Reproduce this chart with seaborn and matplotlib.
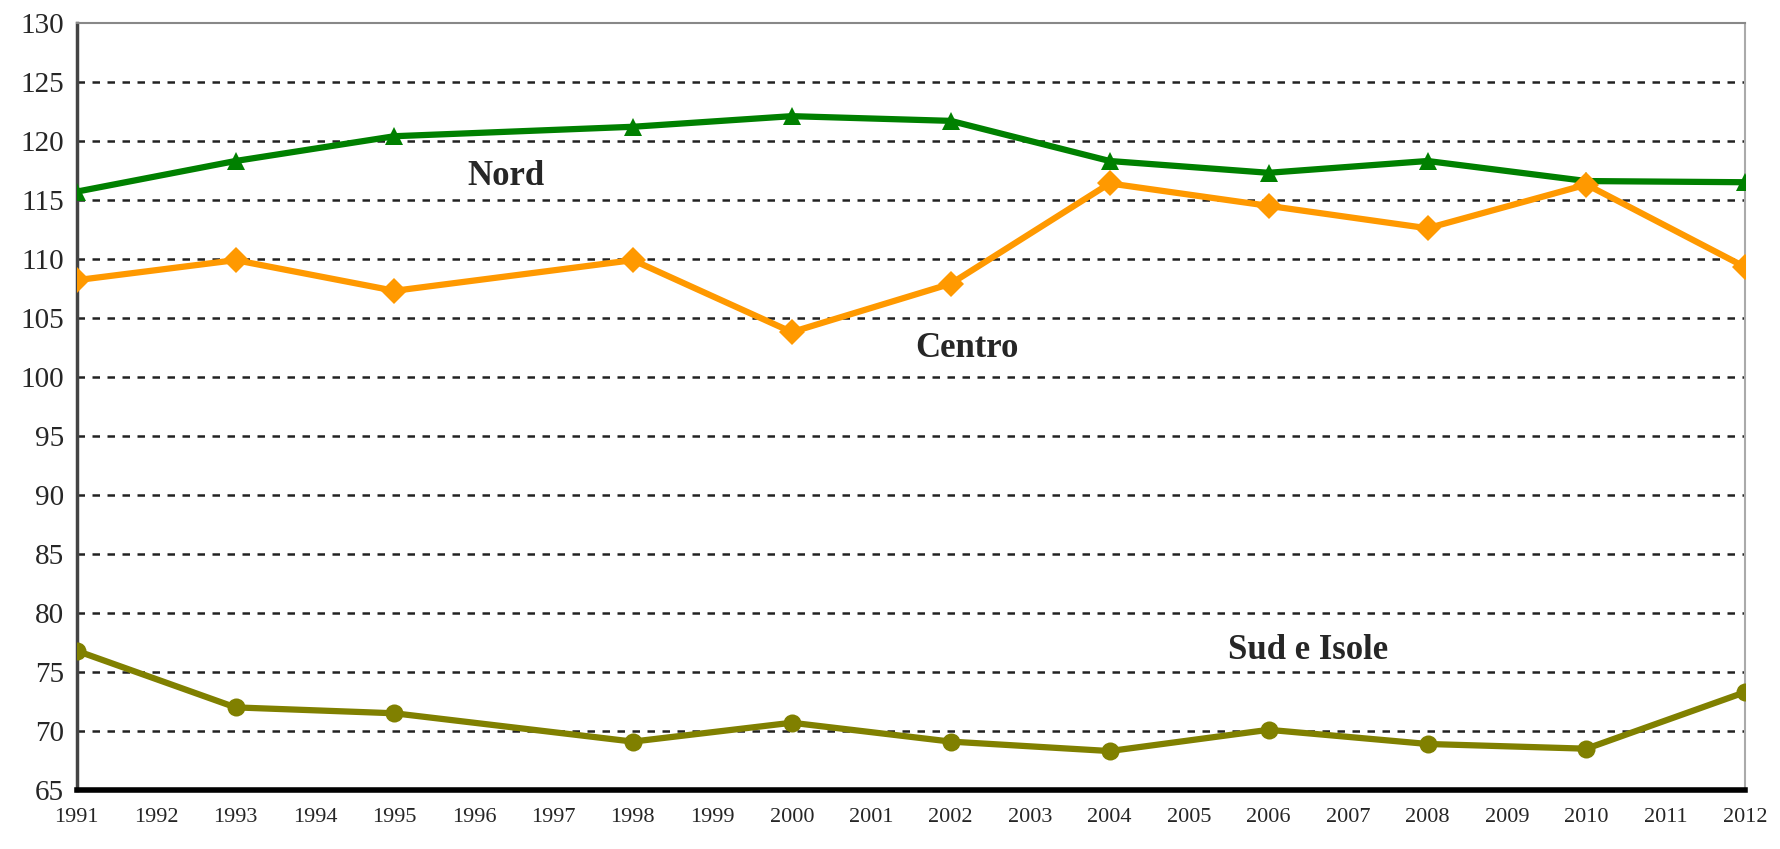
import matplotlib
matplotlib.use("Agg")
import matplotlib.pyplot as plt
import pandas as pd
import seaborn as sns

# anni con i punti segnati
years = [1991, 1993, 1995, 1998, 2000, 2002, 2004, 2006, 2008, 2010, 2012]
nord = [115.7, 118.3, 120.4, 121.2, 122.1, 121.7, 118.3, 117.3, 118.3, 116.6, 116.5]
centro = [108.2, 109.9, 107.3, 109.9, 103.8, 107.9, 116.4, 114.5, 112.6, 116.3, 109.3]
sud = [76.8, 72.0, 71.5, 69.1, 70.7, 69.1, 68.3, 70.1, 68.9, 68.5, 73.3]

tick_years = list(range(1991, 2013))
y_ticks = list(range(65, 131, 5))

df = pd.DataFrame({"anno": years, "Nord": nord, "Centro": centro, "Sud e Isole": sud})
df = df.melt("anno", var_name="area", value_name="valore")

sns.set_style("white")
plt.rcParams["font.family"] = ["Liberation Serif", "DejaVu Serif"]

fig = plt.figure(figsize=(17.81, 8.49), dpi=100)
ax = fig.add_axes([0.043, 0.0695, 0.937, 0.9035])

colors = {"Nord": "#008000", "Centro": "#FF9900", "Sud e Isole": "#808000"}
marks = {"Nord": "^", "Centro": "D", "Sud e Isole": "o"}
sns.lineplot(data=df, x="anno", y="valore", hue="area", style="area",
             palette=colors, markers=marks, dashes=False, linewidth=4.5,
             markersize=13, markeredgewidth=0, legend=False, ax=ax, zorder=3)

ax.set_xlim(1991, 2012)
ax.set_ylim(65, 130)
ax.set_xticks(tick_years)
ax.set_yticks(y_ticks)
ax.set_xticklabels([str(y) for y in tick_years], fontsize=16)
ax.set_yticklabels([str(v) for v in y_ticks], fontsize=21)
ax.set_xlabel("")
ax.set_ylabel("")

for v in y_ticks[1:-1]:
    ax.axhline(v, color="#222222", linestyle=(0, (3, 3)), linewidth=1.8, zorder=1)

ax.spines["left"].set_color("#444444")
ax.spines["left"].set_linewidth(2.5)
ax.spines["bottom"].set_color("black")
ax.spines["bottom"].set_linewidth(4)
ax.spines["top"].set_color("#888888")
ax.spines["top"].set_linewidth(1.5)
ax.spines["right"].set_color("#aaaaaa")
ax.spines["right"].set_linewidth(1.5)

ax.tick_params(axis="x", direction="out", length=10, width=1.5, color="black", pad=3)
ax.tick_params(axis="y", direction="out", length=5, width=1.5, color="#333333", pad=4)

ax.text(1996.4, 117.0, "Nord", fontsize=25, fontweight="bold", ha="center", va="center")
ax.text(2002.2, 102.4, "Centro", fontsize=25, fontweight="bold", ha="center", va="center")
ax.text(2006.5, 76.8, "Sud e Isole", fontsize=25, fontweight="bold", ha="center", va="center")

fig.savefig("out.png", dpi=100)
